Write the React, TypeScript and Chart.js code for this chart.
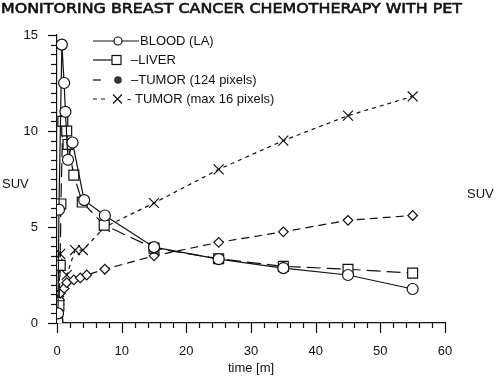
import React, { useEffect, useRef } from "react";
import { Chart, registerables } from "chart.js";

Chart.register(...registerables);

const TITLE = "MONITORING BREAST CANCER CHEMOTHERAPY WITH PET";
const X_TITLE = "time [m]";
const Y_TITLE = "SUV";

const xTickValues = [0, 10, 20, 30, 40, 50, 60];
const yTickValues = [0, 5, 10, 15];

const bloodT = [0.05, 0.15, 0.3, 0.75, 1.1, 1.3, 1.7, 2.4, 4.2, 7.4, 15, 25, 35, 45, 55];
const bloodV = [0.1, 0.5, 5.9, 14.5, 12.5, 11.0, 8.5, 9.4, 6.4, 5.6, 3.95, 3.33, 2.86, 2.5, 1.77];

const liverT = [0.1, 0.3, 0.5, 0.6, 0.9, 1.5, 1.7, 2.6, 3.9, 7.3, 15, 25, 35, 45, 55];
const liverV = [0.3, 0.9, 3.0, 6.2, 10.5, 10.0, 9.3, 7.7, 6.3, 5.1, 3.9, 3.35, 2.95, 2.8, 2.6];

const tumorT = [0.05, 0.1, 0.2, 0.3, 0.4, 0.5, 1.1, 1.5, 2.6, 3.6, 4.6, 7.4, 15, 25, 35, 45, 55];
const tumorV = [0.1, 0.4, 0.7, 0.95, 1.2, 1.55, 1.8, 2.1, 2.25, 2.35, 2.5, 2.8, 3.5, 4.2, 4.75, 5.35, 5.6];

const tumorMaxT = [0.05, 0.1, 0.2, 0.3, 0.5, 1.5, 2.8, 4.0, 7.4, 15, 25, 35, 45, 55];
const tumorMaxV = [0.1, 0.5, 1.0, 1.6, 3.6, 2.5, 3.8, 3.8, 5.0, 6.25, 8.0, 9.5, 10.8, 11.8];

const legendLabels = ["BLOOD (LA)", "–LIVER", "–TUMOR (124 pixels)", "- TUMOR (max 16 pixels)"];

const pts = (t: number[], v: number[]) => t.map((x, i) => ({ x, y: v[i] }));

const INK = "#111";
const FONT = '"Liberation Sans", Arial, sans-serif';

const decorPlugin = {
  id: "decor",
  afterDraw(chart: any) {
    const ctx = chart.ctx as CanvasRenderingContext2D;
    const xs = chart.scales.x;
    const ys = chart.scales.y;
    const area = chart.chartArea;
    ctx.save();
    ctx.strokeStyle = INK;
    ctx.fillStyle = INK;
    ctx.lineWidth = 1.2;
    ctx.setLineDash([]);

    // y ticks (outward, left)
    for (let v = 0; v <= 15.001; v += 0.5) {
      const y = Math.round(ys.getPixelForValue(v)) + 0.5;
      const major = Math.abs(v % 5) < 1e-6;
      const len = major ? 9 : 6;
      ctx.beginPath();
      ctx.moveTo(area.left, y);
      ctx.lineTo(area.left - len, y);
      ctx.stroke();
    }
    // x ticks (outward, down)
    for (let v = 0; v <= 60.001; v += 2) {
      const x = Math.round(xs.getPixelForValue(v)) + 0.5;
      const major = Math.abs(v % 10) < 1e-6;
      const len = major ? 10 : 5;
      ctx.beginPath();
      ctx.moveTo(x, area.bottom);
      ctx.lineTo(x, area.bottom + len);
      ctx.stroke();
    }

    // Title (stretched to width, slightly heavier)
    ctx.font = '14px "DejaVu Sans", sans-serif';
    ctx.textBaseline = "alphabetic";
    ctx.textAlign = "left";
    const tw = ctx.measureText(TITLE).width;
    ctx.save();
    ctx.translate(1, 13);
    ctx.scale(461 / tw, 1);
    ctx.lineWidth = 0.6;
    ctx.fillText(TITLE, 0, 0);
    ctx.strokeText(TITLE, 0, 0);
    ctx.restore();

    // Axis titles
    ctx.font = "13px " + FONT;
    ctx.textBaseline = "middle";
    ctx.textAlign = "left";
    ctx.fillText(Y_TITLE, 2, 184);
    ctx.fillText(Y_TITLE, 467, 194);
    ctx.textAlign = "center";
    ctx.fillText(X_TITLE, xs.getPixelForValue(30), 368);

    // Legend
    const rows = [41, 60, 80, 99];
    const textX = 140;
    ctx.textAlign = "left";
    ctx.font = "13px " + FONT;
    // row 1 blood
    let y = rows[0];
    ctx.beginPath(); ctx.moveTo(93, y); ctx.lineTo(139, y); ctx.stroke();
    ctx.beginPath(); ctx.arc(118, y, 4, 0, Math.PI * 2);
    ctx.fillStyle = "#fff"; ctx.fill(); ctx.stroke();
    ctx.fillStyle = INK;
    ctx.fillText(legendLabels[0], textX, y);
    // row 2 liver
    y = rows[1];
    ctx.beginPath(); ctx.moveTo(93, y); ctx.lineTo(112, y); ctx.stroke();
    ctx.fillStyle = "#fff";
    ctx.fillRect(112, y - 4.5, 9, 9);
    ctx.strokeRect(112, y - 4.5, 9, 9);
    ctx.fillStyle = INK;
    ctx.fillText(legendLabels[1], 131, y);
    // row 3 tumor
    y = rows[2];
    ctx.beginPath(); ctx.moveTo(93, y); ctx.lineTo(101, y); ctx.stroke();
    ctx.beginPath(); ctx.arc(118, y, 3.8, 0, Math.PI * 2); ctx.fillStyle = "#333"; ctx.fill();
    ctx.fillStyle = INK;
    ctx.fillText(legendLabels[2], 131, y);
    // row 4 tumor max
    y = rows[3];
    ctx.beginPath(); ctx.moveTo(93, y); ctx.lineTo(97, y); ctx.moveTo(101, y); ctx.lineTo(105, y); ctx.stroke();
    ctx.beginPath();
    ctx.moveTo(113, y - 4.5); ctx.lineTo(122, y + 4.5);
    ctx.moveTo(122, y - 4.5); ctx.lineTo(113, y + 4.5);
    ctx.stroke();
    ctx.fillText(legendLabels[3], 127, y);

    ctx.restore();
  },
};

export default function App() {
  const ref = useRef<HTMLCanvasElement | null>(null);
  useEffect(() => {
    if (!ref.current) return;
    const common = {
      showLine: true,
      borderColor: INK,
      borderWidth: 1.2,
      pointBorderColor: INK,
      pointBackgroundColor: "#fff",
      pointBorderWidth: 1.2,
      tension: 0,
      fill: false,
    };
    const chart = new Chart(ref.current, {
      type: "scatter",
      data: {
        datasets: [
          { ...common, label: "BLOOD (LA)", data: pts(bloodT, bloodV), pointStyle: "circle", pointRadius: 5.5 },
          { ...common, label: "LIVER", data: pts(liverT, liverV), pointStyle: "rect", pointRadius: 7, borderDash: [14, 6] },
          { ...common, label: "TUMOR (124 pixels)", data: pts(tumorT, tumorV), pointStyle: "rectRot", pointRadius: 4.8, borderDash: [8, 5] },
          { ...common, label: "TUMOR (max 16 pixels)", data: pts(tumorMaxT, tumorMaxV), pointStyle: "crossRot", pointRadius: 7, borderDash: [4, 4] },
        ],
      },
      options: {
        responsive: false,
        animation: false,
        layout: { padding: { left: 0, top: 35, right: 55, bottom: 0 } },
        plugins: { legend: { display: false }, tooltip: { enabled: false }, title: { display: false } },
        scales: {
          x: {
            type: "linear",
            min: 0,
            max: 60,
            afterFit: (s: any) => { s.height = 54; },
            afterBuildTicks: (s: any) => { s.ticks = xTickValues.map((v) => ({ value: v })); },
            grid: { display: false, drawTicks: false },
            border: { display: true, color: INK, width: 1.2 },
            ticks: { color: INK, font: { family: FONT, size: 13 }, padding: 21, maxRotation: 0, autoSkip: false },
          },
          y: {
            type: "linear",
            min: 0,
            max: 15,
            afterFit: (s: any) => { s.width = 57; },
            afterBuildTicks: (s: any) => { s.ticks = yTickValues.map((v) => ({ value: v })); },
            grid: { display: false, drawTicks: false },
            border: { display: true, color: INK, width: 1.2 },
            ticks: { color: INK, font: { family: FONT, size: 13 }, padding: 19, autoSkip: false },
          },
        },
      },
      plugins: [decorPlugin],
    });
    return () => chart.destroy();
  }, []);
  return (
    <div style={{ position: "fixed", left: 0, top: 0, width: 500, height: 377, background: "#fff" }}>
      <canvas ref={ref} width={500} height={377} style={{ display: "block", width: 500, height: 377 }} />
    </div>
  );
}
